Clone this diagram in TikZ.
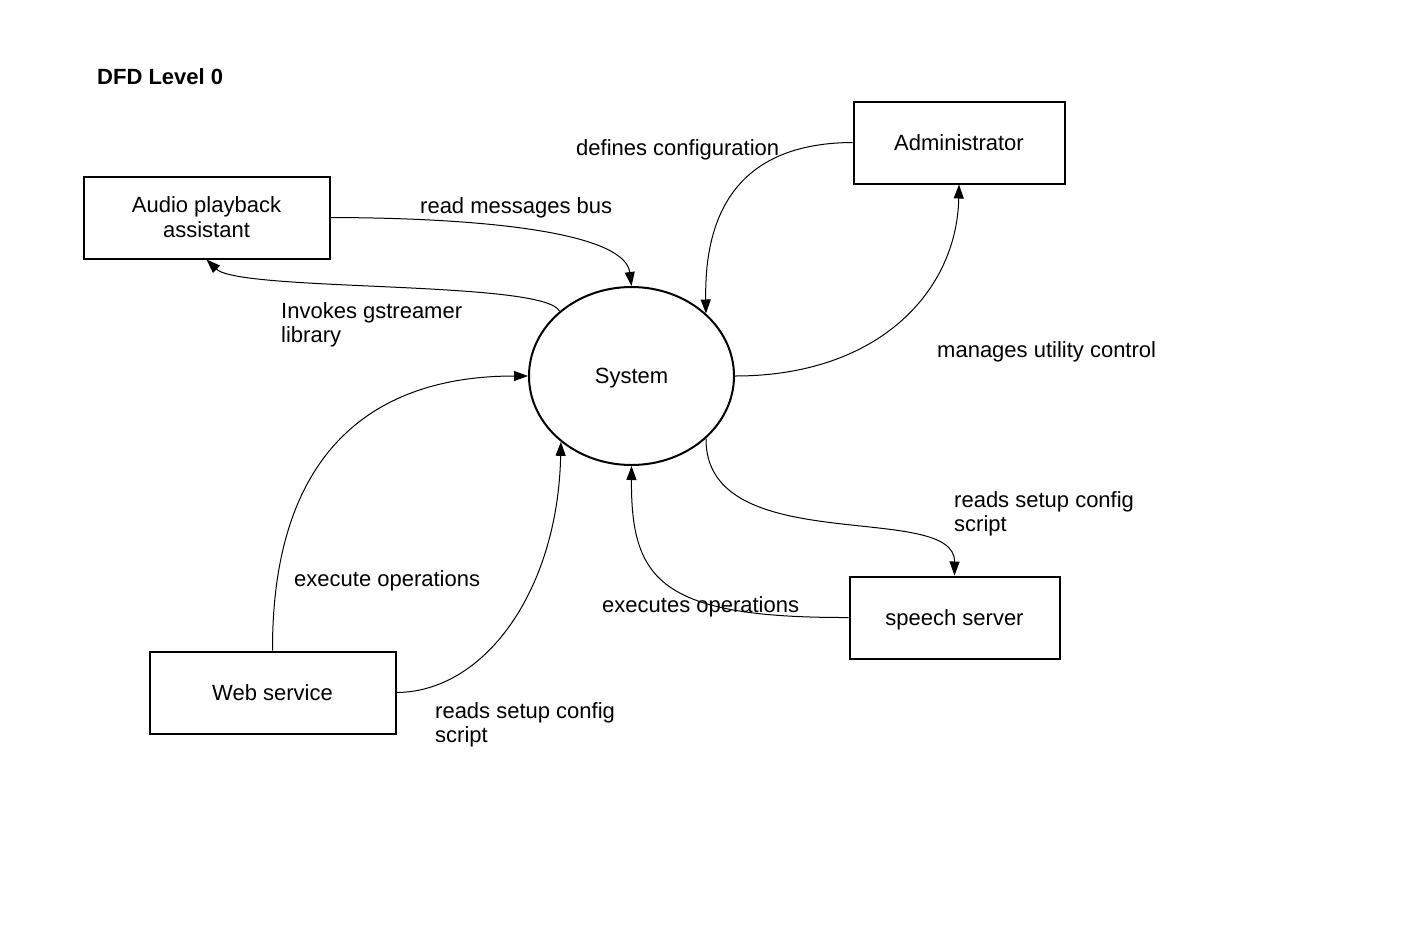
\documentclass[tikz,border=0pt]{standalone}
\usepackage{fontspec}
\setmainfont{Liberation Sans}
\usetikzlibrary{shapes.geometric,arrows.meta}
\newcommand\twolines[2]{\begin{tabular}[t]{@{}l@{}}#1\\#2\end{tabular}}
\tikzset{
  every node/.style={font=\fontsize{22}{24.4}\selectfont},
  box/.style={draw, line width=2pt, inner sep=0pt, minimum width=246pt, minimum height=82pt},
  oneline/.style={text height=15.8pt, text depth=0pt},
  proc/.style={draw, ellipse, line width=2pt, inner sep=0pt, minimum width=205pt, minimum height=178pt, text height=15.8pt, text depth=0pt},
  lbl/.style={anchor=base west, inner sep=0pt},
  flow/.style={line width=1pt, -{Triangle[length=14pt,width=10pt]}}
}
\begin{document}
\begin{tikzpicture}[x=1pt,y=-1pt]
\path[use as bounding box] (0,0) rectangle (1408,924);

\node[lbl, font=\fontsize{22}{24.4}\selectfont\bfseries] (title) at (97,84) {DFD Level 0};

\node[box, text height=19.6pt, text depth=29.2pt] (aud) at (206.5,217.5)
  {\begin{tabular}[t]{@{}c@{}}Audio playback\\assistant\end{tabular}};
\node[box, oneline, minimum width=211pt] (adm) at (959,142.5) {Administrator};
\node[proc] (sys) at (631.5,376) {System};
\node[box, oneline] (web) at (272.5,692.5) {Web service};
\node[box, oneline, minimum width=210pt] (sp) at (954.5,617.5) {speech server};

% connectors
\draw[flow] (aud.east) .. controls (500,218) and (625,235) .. (sys.north);
\draw[flow] (sys.138) .. controls (545,280) and (240,292) .. (aud.south);
\draw[flow] (adm.west) .. controls (745,143) and (704,205) .. (sys.40);
\draw[flow] (sys.east) .. controls (880,376) and (957,290) .. (adm.south);
\draw[flow] (web.north) .. controls (272,460) and (365,376) .. (sys.west);
\draw[flow] (web.east) .. controls (485,692) and (558,590) .. (sys.223);
\draw[flow] (sys.320) .. controls (705,560) and (955,500) .. (sp.north);
\draw[flow] (sp.west) .. controls (660,618) and (631,580) .. (sys.south);

% labels
\node[lbl] (l1) at (420,213) {read messages bus};
\node[lbl] (l2) at (281,318.3) {\twolines{Invokes gstreamer}{library}};
\node[lbl] (l3) at (576,155.7) {defines configuration};
\node[lbl] (l4) at (937,357) {manages utility control};
\node[lbl] (l5) at (954,507.5) {\twolines{reads setup config}{script}};
\node[lbl] (l6) at (294,586.7) {execute operations};
\node[lbl] (l7) at (602,612.7) {executes operations};
\node[lbl] (l8) at (435,718.3) {\twolines{reads setup config}{script}};
\end{tikzpicture}
\end{document}
